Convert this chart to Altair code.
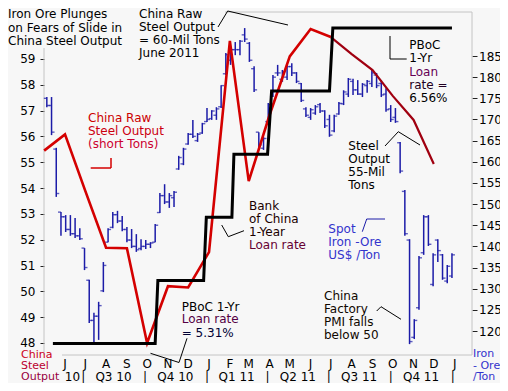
import altair as alt
import pandas as pd

FONT = "DejaVu Sans"
BLUE = "#1c1ca8"
RED = "#d40000"
DARK_RED = "#a00010"
FRAME = "#c4c4c4"
BG = "#f7f7f7"

# ---------------- data ----------------
# weekly spot iron ore (US$/ton), high / low / open / close
ore_first_week = "2010-05-05"
ore_high = [175.3, 175.3, 163.3, 148.1, 147.4, 147.4, 146.7, 144.3, 139.6, 132.1,
            124.3, 126.9, 136.3, 144.3, 148.1, 148.4, 147.2, 144.6, 144.1, 142.9,
            141.7, 141.5, 141.0, 145.3, 152.6, 154.7, 152.6, 153.1, 161.4, 163.3,
            166.8, 169.9, 166.8, 169.2, 172.7, 172.2, 172.9, 178.1, 185.7, 186.9,
            188.3, 188.8, 191.6, 188.3, 182.6, 167.0, 165.9, 173.9, 180.5, 182.9,
            181.7, 182.9, 183.3, 181.2, 178.6, 172.9, 172.7, 173.4, 173.9, 172.2,
            171.1, 171.1, 174.1, 176.9, 179.8, 179.6, 179.3, 178.6, 179.3, 181.7,
            181.0, 179.3, 177.4, 173.4, 172.7, 164.7, 153.3, 141.7, 122.8, 137.7,
            147.4, 147.4, 138.4, 141.7, 138.2, 135.6, 138.4]
ore_low = [172.9, 166.3, 151.7, 142.5, 143.4, 142.5, 142.0, 141.5, 134.4, 121.9,
           117.4, 117.9, 129.2, 141.0, 144.3, 145.5, 143.6, 141.0, 139.6, 138.7,
           139.1, 139.4, 139.6, 141.0, 147.9, 150.0, 149.1, 149.3, 158.1, 159.2,
           164.0, 165.6, 164.7, 166.6, 169.4, 169.9, 169.9, 172.7, 180.5, 182.9,
           185.2, 185.2, 188.3, 183.6, 176.5, 163.3, 162.8, 169.2, 175.3, 180.3,
           178.9, 179.3, 180.3, 178.6, 174.1, 170.6, 169.9, 171.1, 171.5, 168.0,
           165.9, 167.0, 171.1, 173.4, 175.3, 175.8, 175.8, 175.3, 176.3, 177.7,
           177.4, 175.3, 171.8, 169.4, 169.2, 157.3, 142.5, 116.9, 118.1, 125.0,
           138.0, 140.1, 130.6, 136.3, 132.1, 131.3, 132.5]
ore_open = [175.0, 173.3, 163.0, 148.1, 147.0, 144.0, 143.0, 142.5, 139.6, 132.0,
            122.5, 123.5, 129.5, 141.0, 144.5, 147.5, 146.0, 144.0, 141.5, 140.0,
            139.5, 140.0, 140.5, 141.0, 148.0, 152.0, 150.5, 151.5, 158.3, 159.5,
            164.2, 166.5, 165.0, 166.8, 169.5, 170.2, 171.0, 173.0, 180.8, 184.0,
            186.5, 186.5, 190.0, 188.0, 182.0, 167.0, 163.2, 169.5, 175.5, 181.0,
            179.5, 180.0, 182.5, 181.0, 178.5, 172.5, 170.5, 171.5, 173.5, 172.0,
            170.0, 167.3, 171.3, 173.7, 176.0, 179.0, 177.0, 176.0, 178.0, 178.5,
            180.5, 178.5, 176.0, 172.5, 170.5, 164.5, 153.0, 141.5, 118.5, 125.5,
            138.5, 147.0, 131.0, 141.5, 138.0, 131.8, 133.0]
ore_close = [173.3, 167.0, 152.5, 147.0, 144.0, 143.0, 142.5, 141.8, 135.0, 122.5,
             123.5, 126.0, 135.5, 144.0, 147.5, 146.0, 144.0, 141.5, 140.0, 139.2,
             140.0, 140.5, 140.8, 145.0, 152.0, 150.5, 152.0, 152.8, 161.0, 163.0,
             166.5, 166.0, 166.5, 169.0, 170.0, 172.0, 172.5, 178.0, 185.3, 186.5,
             186.5, 188.5, 189.0, 184.0, 177.0, 164.0, 165.5, 173.5, 180.0, 181.0,
             181.3, 182.5, 181.0, 179.0, 174.5, 171.0, 172.3, 173.0, 172.0, 168.5,
             166.3, 170.8, 173.8, 176.5, 179.5, 177.0, 176.0, 178.3, 179.0, 181.0,
             178.0, 175.8, 172.3, 170.0, 169.5, 157.8, 143.0, 117.5, 122.5, 137.3,
             147.0, 140.5, 138.0, 139.0, 132.5, 135.3, 138.0]

# monthly China raw steel output (million short tons)
steel_months = ["2010-05-01", "2010-06-01", "2010-07-01", "2010-08-01", "2010-09-01",
                "2010-10-01", "2010-11-01", "2010-12-01", "2011-01-01", "2011-02-01",
                "2011-03-01", "2011-04-01", "2011-05-01", "2011-06-01", "2011-07-01",
                "2011-08-01", "2011-09-01", "2011-10-01", "2011-11-01", "2011-12-01"]
steel_output = [55.45, 56.08, 53.9, 51.69, 51.67, 48.0, 50.2, 50.15, 51.52, 59.7,
                54.27, 56.83, 59.1, 60.16, 59.85, 59.19, 58.57, 57.57, 56.64, 54.93]
steel_split = "2011-07-01"

# PBoC 1-year loan rate (%)
rate_dates = ["2010-05-14", "2010-10-13", "2010-10-17", "2010-12-24", "2010-12-28",
              "2011-02-04", "2011-02-07", "2011-03-29", "2011-04-04", "2011-06-29",
              "2011-07-04", "2011-12-28"]
rate_values = [5.31, 5.31, 5.56, 5.56, 5.81, 5.81, 6.06, 6.06, 6.31, 6.31, 6.56, 6.56]

# axis labels
month_dates = ["2010-06-01", "2010-07-01", "2010-08-01", "2010-09-01", "2010-10-01",
               "2010-11-01", "2010-12-01", "2011-01-01", "2011-02-01", "2011-03-01",
               "2011-04-01", "2011-05-01", "2011-06-01", "2011-07-01", "2011-08-01",
               "2011-09-01", "2011-10-01", "2011-11-01", "2011-12-01", "2012-01-01"]
month_letters = ["J", "J", "A", "S", "O", "N", "D", "J", "F", "M",
                 "A", "M", "J", "J", "A", "S", "O", "N", "D", "J"]
left_ticks = list(range(48, 60))
right_ticks = list(range(120, 190, 5))
quarter_labels = ["10", "Q3 10", "Q4 10", "Q1 11", "Q2 11", "Q3 11", "Q4 11"]
quarter_label_dates = ["2010-06-15", "2010-08-15", "2010-11-15", "2011-02-14",
                       "2011-05-16", "2011-08-15", "2011-11-15"]
quarter_breaks = ["2010-07-01", "2010-10-01", "2011-01-01", "2011-04-01",
                  "2011-07-01", "2011-10-01", "2012-01-01"]

# ---------------- layout ----------------
PLOT_X0, PLOT_Y0 = 44, 12      # page position of plot area
W, H = 428, 343

ore = pd.DataFrame({
    "date": pd.date_range(ore_first_week, periods=len(ore_high), freq="7D").strftime("%Y-%m-%d"),
    "high": ore_high, "low": ore_low, "open": ore_open, "close": ore_close,
})
steel = pd.DataFrame({"date": steel_months, "v": steel_output})
steel_a = steel[steel["date"] <= steel_split]
steel_b = steel[steel["date"] >= steel_split]
rate = pd.DataFrame({"date": rate_dates, "r": rate_values})
months = pd.DataFrame({"date": month_dates, "t": month_letters})
quarters = pd.DataFrame({"date": quarter_label_dates, "t": quarter_labels})
qbreaks = pd.DataFrame({"date": quarter_breaks, "t": ["|"] * len(quarter_breaks)})

X = alt.Scale(domain=[alt.DateTime(year=2010, month=4, date=30, hours=19, utc=True),
                      alt.DateTime(year=2012, month=1, date=26, hours=19, utc=True)])
Y_LEFT = alt.Scale(domain=[47.535, 60.82], nice=False, zero=False)
Y_RIGHT = alt.Scale(domain=[114.33, 195.4], nice=False, zero=False)
Y_RATE = alt.Scale(domain=[5.2644, 6.6234], nice=False, zero=False)

left_axis = alt.Axis(orient="left", values=left_ticks, domain=False, grid=False,
                     tickSize=4, tickColor="#222", labelPadding=5, labelFontSize=12,
                     labelFont=FONT, labelColor="#000", title=None,
                     labelFlush=False, labelOverlap=False)
right_axis = alt.Axis(orient="right", values=right_ticks, domain=False, grid=False,
                      tickSize=5, tickColor="#222", labelPadding=1.5, labelFontSize=12,
                      labelFont=FONT, labelColor="#000", title=None,
                      labelFlush=False, labelOverlap=False)

# frame + leader lines, in page pixels: x1, y1, x2, y2, colour, width
segments = [
    (44, 48, 44, 355, FRAME, 1), (472, 12, 472, 355, FRAME, 1),
    (225, 12, 472, 12, FRAME, 1), (62, 355, 472, 355, FRAME, 1),
    (218, 27, 227.7, 11, "#000", 1), (227.7, 11, 288, 25, "#000", 1),
    (90.7, 168, 111, 168, RED, 1.5), (111, 168, 111, 158, RED, 1.5),
    (221.7, 225, 228.3, 236.7, "#000", 1), (228.3, 236.7, 244, 230.7, "#000", 1),
    (150.5, 353.3, 179, 362.5, "#000", 1), (179, 362.5, 187, 338.3, "#000", 1),
    (390, 36, 390, 59, "#000", 1), (390, 59, 406.7, 59, "#000", 1),
    (385, 146, 398.3, 131.7, "#000", 1), (398.3, 131.7, 420, 145, "#000", 1),
    (362.3, 231.7, 366.7, 219, BLUE, 1), (366.7, 219, 385, 219, BLUE, 1),
    (376.7, 311, 381, 306.7, "#000", 1), (381, 306.7, 401, 319.3, "#000", 1),
]
seg_df = pd.DataFrame(segments, columns=["x1", "y1", "x2", "y2", "c", "w"])
for k in ("x1", "x2"):
    seg_df[k] = seg_df[k] - PLOT_X0
for k in ("y1", "y2"):
    seg_df[k] = seg_df[k] - PLOT_Y0

# text blocks, in page pixels: x, y (line centre), text, colour, size
texts = []
def block(x, ys, lines, colors, size=12):
    if isinstance(colors, str):
        colors = [colors] * len(lines)
    for y, t, c in zip(ys, lines, colors):
        texts.append((x, y, t, c, size))

block(8, [14, 27.5, 41], ["Iron Ore Plunges", "on Fears of Slide in", "China Steel Output"], "#000")
block(139, [13.5, 26.5, 39.5, 52.5], ["China Raw", "Steel Output", "= 60-Mil Tons", "June 2011"], "#000")
block(88, [118, 131, 144], ["China Raw", "Steel Output", "(short Tons)"], ["#cc0000", "#cc0010", "#cc0030"])
block(249, [205.7, 219, 232, 245], ["Bank", "of China", "1-Year", "Loan rate"],
      ["#1a0000", "#1a0000", "#1a0000", "#660033"])
block(181.7, [306.7, 319.3, 332.7], ["PBoC 1-Yr", "Loan rate", "= 5.31%"], ["#000", "#550044", "#000033"])
block(409.3, [45, 58.3, 71.7, 85, 97.7], ["PBoC", "1-Yr", "Loan", "rate =", "6.56%"],
      ["#000", "#000", "#660055", "#220022", "#000"])
block(348.3, [146, 159.3, 172.3, 185], ["Steel", "Output", "55-Mil", "Tons"], "#000")
block(328.3, [229.3, 242.3, 255], ["Spot", "Iron -Ore", "US$ /Ton"], "#3333cc")
block(324, [296, 309, 322.3, 335], ["China", "Factory", "PMI falls", "below 50"], "#100800")
block(21, [354.5, 366, 377], ["China", "Steel", "Output"], ["#cc0020", "#bb0030", "#990040"], 11)
block(473, [354, 365.5, 377], ["Iron", "- Ore", "/Ton"], "#3333cc", 11)
txt_df = pd.DataFrame(texts, columns=["x", "y", "t", "c", "s"])
txt_df["x"] = txt_df["x"] - PLOT_X0
txt_df["y"] = txt_df["y"] - PLOT_Y0

# ---------------- layers ----------------
frame_and_leaders = alt.Chart(seg_df).mark_rule().encode(
    x=alt.X("x1:Q", scale=None, axis=None), x2="x2:Q",
    y=alt.Y("y1:Q", scale=None, axis=None), y2="y2:Q",
    color=alt.Color("c:N", scale=None, legend=None),
    strokeWidth=alt.StrokeWidth("w:Q", scale=None, legend=None),
)

ore_hl = alt.Chart(ore).mark_rule(color=BLUE, strokeWidth=1.5).encode(
    x=alt.X("date:T", scale=X, axis=None),
    y=alt.Y("high:Q", scale=Y_RIGHT, axis=right_axis),
    y2="low:Q",
)
ore_o = alt.Chart(ore).mark_tick(orient="horizontal", color=BLUE, size=3, thickness=1.4, xOffset=-1.5).encode(
    x=alt.X("date:T", scale=X, axis=None),
    y=alt.Y("open:Q", scale=Y_RIGHT, axis=None),
)
ore_c = alt.Chart(ore).mark_tick(orient="horizontal", color=BLUE, size=3, thickness=1.4, xOffset=1.5).encode(
    x=alt.X("date:T", scale=X, axis=None),
    y=alt.Y("close:Q", scale=Y_RIGHT, axis=None),
)
steel_line_a = alt.Chart(steel_a).mark_line(color=RED, strokeWidth=2.6).encode(
    x=alt.X("date:T", scale=X, axis=None),
    y=alt.Y("v:Q", scale=Y_LEFT, axis=left_axis),
)
steel_line_b = alt.Chart(steel_b).mark_line(color=DARK_RED, strokeWidth=2.2).encode(
    x=alt.X("date:T", scale=X, axis=None),
    y=alt.Y("v:Q", scale=Y_LEFT, axis=None),
)
rate_line = alt.Chart(rate).mark_line(color="#000", strokeWidth=3).encode(
    x=alt.X("date:T", scale=X, axis=None),
    y=alt.Y("r:Q", scale=Y_RATE, axis=None),
)
month_text = alt.Chart(months).mark_text(font=FONT, fontSize=12, color="#000",
                                         baseline="middle", align="center").encode(
    x=alt.X("date:T", scale=X, axis=None), y=alt.value(364 - PLOT_Y0), text="t:N")
quarter_text = alt.Chart(quarters).mark_text(font=FONT, fontSize=12, color="#000",
                                             baseline="middle", align="center", dx=-2).encode(
    x=alt.X("date:T", scale=X, axis=None), y=alt.value(377 - PLOT_Y0), text="t:N")
break_text = alt.Chart(qbreaks).mark_text(font=FONT, fontSize=12, color="#000",
                                          baseline="middle", align="center", dx=-2).encode(
    x=alt.X("date:T", scale=X, axis=None), y=alt.value(376.5 - PLOT_Y0), text="t:N")
labels = alt.Chart(txt_df).mark_text(font=FONT, align="left", baseline="middle").encode(
    x=alt.X("x:Q", scale=None, axis=None),
    y=alt.Y("y:Q", scale=None, axis=None),
    text="t:N",
    color=alt.Color("c:N", scale=None, legend=None),
    size=alt.Size("s:Q", scale=None, legend=None),
)

chart = alt.layer(
    frame_and_leaders, ore_hl, ore_o, ore_c, steel_line_a, steel_line_b, rate_line,
    month_text, quarter_text, break_text, labels,
).resolve_scale(y="independent").properties(
    width=W, height=H,
    padding={"left": 36, "top": 4, "right": 28, "bottom": 28},
    autosize=alt.AutoSizeParams(type="none"),
    background=BG,
).configure_view(strokeWidth=0)

chart.save("out.html", embed_options={"renderer": "svg", "actions": False})
